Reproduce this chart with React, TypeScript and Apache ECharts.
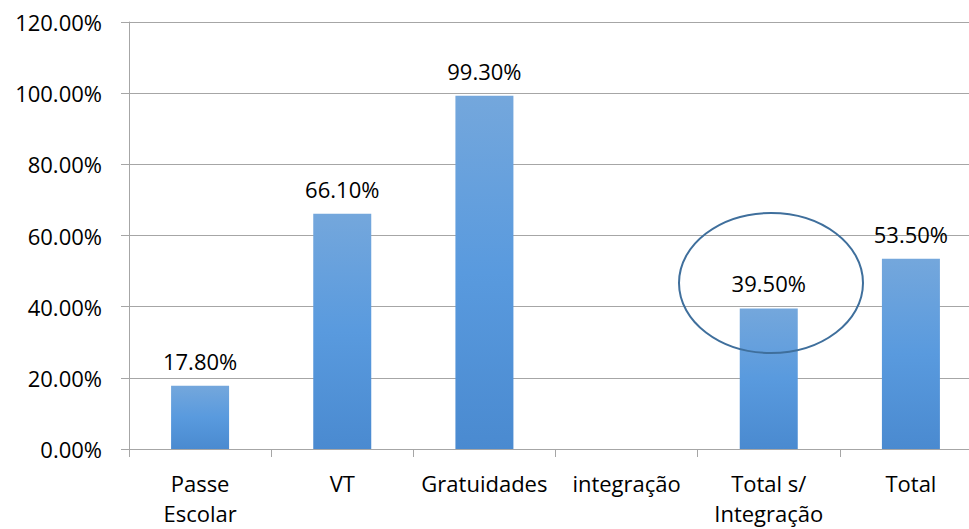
import React, { useEffect, useRef } from "react";
import * as echarts from "echarts";

const categories = ["Passe\nEscolar", "VT", "Gratuidades", "integração", "Total s/\nIntegração", "Total"];
const values: (number | null)[] = [17.8, 66.1, 99.3, null, 39.5, 53.5];
const yTicks = [0, 20, 40, 60, 80, 100, 120];

const FONT = "'Open Sans', 'Noto Sans', sans-serif";
const FS = 22;

export default function App() {
  const ref = useRef<HTMLDivElement>(null);
  useEffect(() => {
    if (!ref.current) return;
    const chart = echarts.init(ref.current, null, { renderer: "svg" });
    chart.setOption({
      animation: false,
      backgroundColor: "#ffffff",
      grid: { left: 129, right: -13, top: 22, bottom: 80, containLabel: false, outerBoundsMode: "none" },
      xAxis: {
        type: "category",
        data: categories,
        axisLine: { show: true, lineStyle: { color: "#a6a6a6", width: 1 } },
        axisTick: { show: true, alignWithLabel: false, length: 8, lineStyle: { color: "#a6a6a6" } },
        axisLabel: { color: "#000", fontSize: FS, fontFamily: FONT, margin: 19, lineHeight: 30, interval: 0 },
      },
      yAxis: {
        type: "value",
        min: yTicks[0],
        max: yTicks[yTicks.length - 1],
        interval: 20,
        axisLine: { show: true, lineStyle: { color: "#a6a6a6", width: 1 } },
        axisTick: { show: true, length: 8, lineStyle: { color: "#a6a6a6" } },
        splitLine: { show: true, lineStyle: { color: "#a6a6a6", width: 1 } },
        axisLabel: {
          color: "#000",
          fontSize: FS,
          fontFamily: FONT,
          margin: 27,
          formatter: (v: number) => v.toFixed(2) + "%",
        },
      },
      series: [
        {
          type: "bar",
          data: values,
          barWidth: 58,
          itemStyle: {
            color: new echarts.graphic.LinearGradient(0, 0, 0, 1, [
              { offset: 0, color: "#74a7dc" },
              { offset: 0.5, color: "#599ade" },
              { offset: 1, color: "#4a8ad0" },
            ]),
          },
          label: {
            show: true,
            position: "top",
            distance: 14,
            color: "#000",
            fontSize: FS,
            fontFamily: FONT,
            formatter: (p: any) => (p.value == null ? "" : Number(p.value).toFixed(2) + "%"),
          },
        },
      ],
      graphic: [
        {
          type: "ellipse",
          shape: { cx: 771, cy: 283, rx: 92, ry: 70 },
          style: { fill: "none", stroke: "#3f6f9c", lineWidth: 2 },
          z: 100,
        },
      ],
    });
    return () => chart.dispose();
  }, []);
  return <div ref={ref} style={{ position: "fixed", left: 0, top: 0, width: 969, height: 529 }} />;
}
